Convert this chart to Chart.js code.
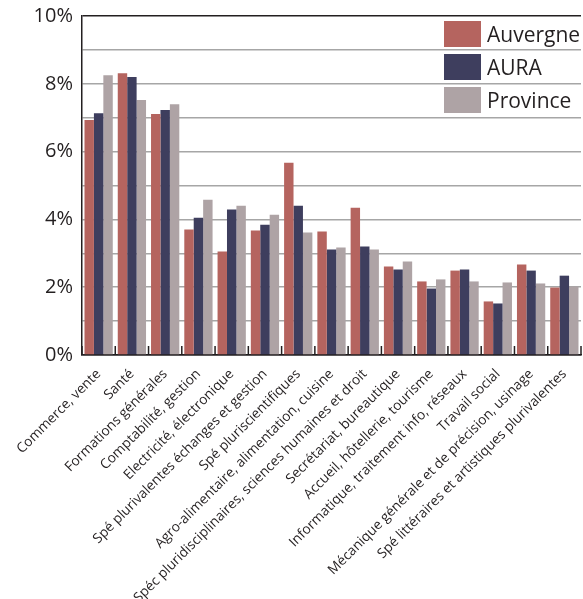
<!DOCTYPE html>
<html lang="fr">
<head>
<meta charset="utf-8">
<script src="https://cdn.jsdelivr.net/npm/chart.js@4"></script>
<style>
  html, body { margin: 0; padding: 0; background: #fff; }
  #cadre { position: relative; width: 583px; height: 599px; }
  #legende { position: absolute; left: 444px; top: 21px; font-family: "Open Sans", sans-serif; font-size: 21px; color: #231f20; }
  .ligne { display: flex; align-items: center; height: 26px; margin-bottom: 7px; }
  .case { width: 37px; height: 26px; margin-right: 6px; }
</style>
</head>
<body>
<div id="cadre">
  <canvas id="graphique" width="583" height="599"></canvas>
  <div id="legende"></div>
</div>
<script>
// Domaines de formation (axe horizontal)
const categories = [
  "Commerce, vente",
  "Santé",
  "Formations générales",
  "Comptabilité, gestion",
  "Electricité, électronique",
  "Spé plurivalentes échanges et gestion",
  "Spé pluriscientifiques",
  "Agro-alimentaire, alimentation, cuisine",
  "Spéc pluridisciplinaires, sciences humaines et droit",
  "Secrétariat, bureautique",
  "Accueil, hôtellerie, tourisme",
  "Informatique, traitement info, réseaux",
  "Travail social",
  "Mécanique générale et de précision, usinage",
  "Spé littéraires et artistiques plurivalentes"
];

// Part des effectifs (%)
const auvergne = [6.93, 8.31, 7.11, 3.70, 3.05, 3.67, 5.67, 3.64, 4.34, 2.61, 2.17, 2.49, 1.58, 2.67, 1.99];
const aura = [7.13, 8.20, 7.23, 4.05, 4.29, 3.84, 4.40, 3.11, 3.20, 2.52, 1.96, 2.52, 1.52, 2.49, 2.34];
const province = [8.25, 7.52, 7.40, 4.58, 4.40, 4.14, 3.61, 3.17, 3.11, 2.76, 2.23, 2.17, 2.14, 2.11, 2.02];

const series = ["Auvergne", "AURA", "Province"];
const couleurs = ["#b5645f", "#3e3e5e", "#aea3a5"];
const encre = "#231f20";

// Petits traits entre les catégories, au-dessus de l'axe
const marquesAxe = {
  id: "marquesAxe",
  beforeDatasetsDraw(chart) {
    const x = chart.scales.x;
    const ctx = chart.ctx;
    const bas = chart.chartArea.bottom;
    ctx.save();
    ctx.strokeStyle = encre;
    ctx.lineWidth = 1.5;
    for (let i = 0; i <= categories.length; i++) {
      const px = x.getPixelForValue(i - 0.5);
      ctx.beginPath();
      ctx.moveTo(px, bas);
      ctx.lineTo(px, bas - 9);
      ctx.stroke();
    }
    ctx.restore();
  }
};

const valeurs = [auvergne, aura, province];
const data = {
  labels: categories,
  datasets: series.map((nom, i) => ({
    label: nom,
    data: valeurs[i],
    backgroundColor: couleurs[i],
    categoryPercentage: 0.85,
    barPercentage: 1.0
  }))
};

const config = {
  type: "bar",
  data: data,
  options: {
    responsive: false,
    animation: false,
    devicePixelRatio: 1,
    layout: { padding: { top: 16, right: 2, left: 0, bottom: 0 } },
    plugins: {
      legend: { display: false },
      tooltip: { enabled: false }
    },
    scales: {
      x: {
        grid: { display: false },
        border: { display: true, color: encre, width: 1.5 },
        ticks: {
          autoSkip: false,
          maxRotation: 45,
          minRotation: 45,
          padding: 3,
          color: encre,
          font: { family: "Open Sans", size: 13.7 }
        },
        afterFit(scale) {
          scale.height = 244;
          scale.paddingLeft = 0;
          scale.paddingRight = 0;
        }
      },
      y: {
        min: 0,
        max: 10,
        grid: {
          drawTicks: false,
          lineWidth: 1.5,
          color: (c) => (c.tick && (c.tick.value === 10 || c.tick.value === 0)) ? encre : "#a6a6a6"
        },
        border: { display: true, color: encre, width: 1.5 },
        ticks: {
          stepSize: 1,
          padding: 9,
          color: encre,
          font: { family: "Open Sans", size: 20 },
          callback: (v) => (v % 2 === 0 ? v + "%" : "")
        },
        afterFit(scale) {
          scale.width = 82;
          scale.paddingTop = 0;
          scale.paddingBottom = 0;
        }
      }
    }
  },
  plugins: [marquesAxe]
};

const graphique = new Chart(document.querySelector("#graphique"), config);

// Légende en HTML, dans le coin haut droit du graphique
const legende = document.querySelector("#legende");
series.forEach((nom, i) => {
  const ligne = document.createElement("div");
  ligne.className = "ligne";
  ligne.innerHTML = `<span class="case" style="background:${couleurs[i]}"></span><span>${nom}</span>`;
  legende.appendChild(ligne);
});
</script>
</body>
</html>
